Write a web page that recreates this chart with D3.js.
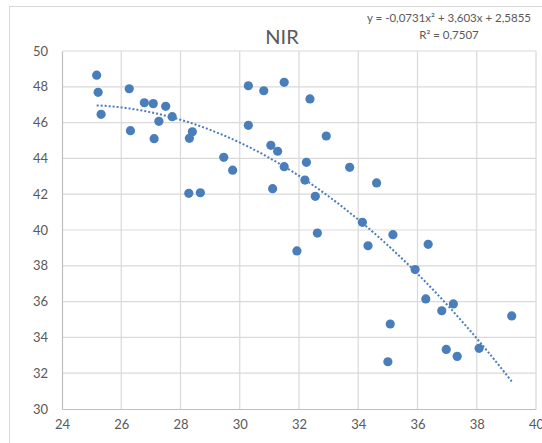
<!DOCTYPE html>
<html>
<head>
<meta charset="utf-8">
<script src="https://cdn.jsdelivr.net/npm/d3@7"></script>
<style>
  body { margin: 0; background: #fff; }
  text { font-family: Lato, "Open Sans", sans-serif; fill: #595959; }
</style>
</head>
<body>
<div id="chart"></div>
<script>
// NIR values
var xValues = [25.17, 25.22, 25.32, 26.27, 26.31, 26.78, 27.08, 27.11, 27.50, 27.27,
               27.72, 28.40, 28.30, 28.28, 28.67, 29.46, 29.76, 30.29, 30.29, 30.81,
               31.50, 31.05, 31.28, 31.50, 31.11, 32.37, 32.92, 32.25, 33.71, 32.20,
               34.62, 32.55, 34.14, 32.62, 35.17, 34.33, 36.36, 31.93, 35.92, 36.28,
               37.21, 36.82, 39.18, 35.08, 36.97, 37.34, 38.08, 35.00];
var yValues = [48.65, 47.69, 46.46, 47.89, 45.55, 47.11, 47.06, 45.10, 46.91, 46.07,
               46.33, 45.49, 45.12, 42.05, 42.08, 44.06, 43.34, 48.06, 45.85, 47.78,
               48.25, 44.73, 44.40, 43.54, 42.31, 47.32, 45.25, 43.78, 43.50, 42.79,
               42.63, 41.88, 40.43, 39.83, 39.74, 39.12, 39.20, 38.83, 37.79, 36.15,
               35.87, 35.49, 35.20, 34.75, 33.33, 32.94, 33.39, 32.64];

// polynomial trendline y = a x^2 + b x + c
var trendCoef = [-0.0731, 3.603, 2.5855];
var equationLabel = "y = -0,0731x² + 3,603x + 2,5855";
var r2Label = "R² = 0,7507";

var xTicks = [24, 26, 28, 30, 32, 34, 36, 38, 40];
var yTicks = [30, 32, 34, 36, 38, 40, 42, 44, 46, 48, 50];

var W = 542, H = 443;
var svg = d3.select("#chart").append("svg")
    .attr("width", W)
    .attr("height", H);

// chart frame
svg.append("rect")
    .attr("x", 9.5).attr("y", 6.5)
    .attr("width", 540).attr("height", 440)
    .attr("fill", "none")
    .attr("stroke", "#d9d9d9");

var x = d3.scaleLinear().domain([24, 40]).range([62, 536]);
var y = d3.scaleLinear().domain([30, 50]).range([409, 51]);

// gridlines
svg.append("g").selectAll("line")
    .data(xTicks.slice(1))
    .enter().append("line")
    .attr("x1", function(d) { return x(d); })
    .attr("x2", function(d) { return x(d); })
    .attr("y1", y(50)).attr("y2", y(30))
    .attr("stroke", "#d9d9d9").attr("stroke-width", 1.2);

svg.append("g").selectAll("line")
    .data(yTicks.slice(1))
    .enter().append("line")
    .attr("x1", x(24)).attr("x2", x(40))
    .attr("y1", function(d) { return y(d); })
    .attr("y2", function(d) { return y(d); })
    .attr("stroke", "#d9d9d9").attr("stroke-width", 1.2);

// axes
var xAxis = d3.axisBottom(x).tickValues(xTicks).tickSize(0).tickPadding(11);
var yAxis = d3.axisLeft(y).tickValues(yTicks).tickSize(0).tickPadding(14);

var gx = svg.append("g").attr("transform", "translate(0," + y(30) + ")").call(xAxis);
var gy = svg.append("g").attr("transform", "translate(" + x(24) + ",0)").call(yAxis);
[gx, gy].forEach(function(g) {
    g.select(".domain").attr("stroke", "#bfbfbf").attr("stroke-width", 1.2);
    g.selectAll("text").attr("font-size", 13).attr("fill", "#595959")
        .style("font-family", "Lato, 'Open Sans', sans-serif");
});

// points
svg.append("g").selectAll("circle")
    .data(xValues)
    .enter().append("circle")
    .attr("cx", function(d) { return x(d); })
    .attr("cy", function(d, i) { return y(yValues[i]); })
    .attr("r", 4.6)
    .attr("fill", "#4a7ebb");

// trendline over the data range
var xmin = d3.min(xValues), xmax = d3.max(xValues);
var trendPts = d3.range(0, 101).map(function(i) {
    var xv = xmin + (xmax - xmin) * i / 100;
    return [xv, trendCoef[0] * xv * xv + trendCoef[1] * xv + trendCoef[2]];
});
svg.append("path")
    .datum(trendPts)
    .attr("d", d3.line().x(function(d) { return x(d[0]); }).y(function(d) { return y(d[1]); }))
    .attr("fill", "none")
    .attr("stroke", "#4a7ebb")
    .attr("stroke-width", 2)
    .attr("stroke-dasharray", "2,2");

// title and equation
svg.append("text")
    .attr("x", 282).attr("y", 44)
    .attr("text-anchor", "middle")
    .attr("font-size", 20)
    .text("NIR");

svg.append("text")
    .attr("x", 449).attr("y", 22)
    .attr("text-anchor", "middle")
    .attr("font-size", 11.5)
    .text(equationLabel);

svg.append("text")
    .attr("x", 449).attr("y", 39)
    .attr("text-anchor", "middle")
    .attr("font-size", 11.5)
    .text(r2Label);
</script>
</body>
</html>
